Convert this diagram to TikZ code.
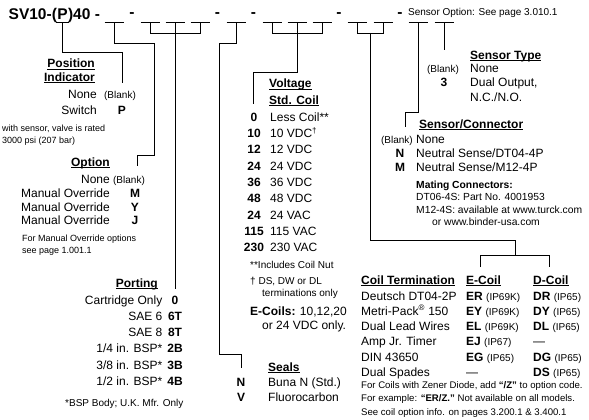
\documentclass[tikz,border=0pt]{standalone}
\usepackage{fontspec}
\setmainfont{Liberation Sans}
\usepackage{tikz}

\newcommand{\undl}[1]{\setbox0=\hbox{#1}\rlap{\rule[-1.6pt]{\wd0}{0.9pt}}\box0}

\begin{document}
\begin{tikzpicture}[x=1pt, y=-1pt,
	every node/.style={inner sep=0pt, font=\fontsize{12}{14}\selectfont},
	conn/.style={draw=black, line width=0.9pt},
	title/.style={font=\fontsize{15.5}{17}\selectfont\bfseries},
	lbl/.style={anchor=base west},
	rlbl/.style={anchor=base east},
	hd/.style={anchor=base west, font=\fontsize{12}{14}\selectfont\bfseries},
	rhd/.style={anchor=base east, font=\fontsize{12}{14}\selectfont\bfseries},
	code/.style={anchor=base, font=\fontsize{12}{14}\selectfont\bfseries},
	blanktxt/.style={anchor=base, font=\fontsize{10}{12}\selectfont},
	smalltxt/.style={anchor=base west, font=\fontsize{10}{12}\selectfont},
	notetxt/.style={anchor=base west, font=\fontsize{9}{11}\selectfont}]
				\useasboundingbox (0,0) rectangle (589,420);
				
				% model code
				\node[title, anchor=base] (p) at (62.5,20) {P};
				\node[title, anchor=base east] (t1) at (p.base west) {SV10-(};
				\node[title, anchor=base west] (t2) at (p.base east) {)40 -};
				\node[title, anchor=base] (h1) at (132,17.7) {-};
				\node[title, anchor=base] (h2) at (217.5,17.7) {-};
				\node[title, anchor=base] (h3) at (253.5,17.7) {-};
				\node[title, anchor=base] (h4) at (339,17.7) {-};
				\node[title, anchor=base] (h5) at (400,17.7) {-};
				\node[smalltxt] (sopt) at (408,15.6) {Sensor Option: See page 3.010.1};
				
				% blanks
				\coordinate (b0) at (62.5,22.5);
				\coordinate (b1) at (114,22.5);
				\coordinate (b2) at (150,22.5);
				\coordinate (b3) at (175,22.5);
				\coordinate (b4) at (200,22.5);
				\coordinate (b5) at (236,22.5);
				\coordinate (b6) at (272,22.5);
				\coordinate (b7) at (297,22.5);
				\coordinate (b8) at (322,22.5);
				\coordinate (b9) at (357,22.5);
				\coordinate (b10) at (383,22.5);
				\coordinate (b11) at (418,22.5);
				\coordinate (b12) at (444,22.5);
				\draw[conn] ([xshift=-6.5pt]b0) -- ([xshift=6.5pt]b0);
				\draw[conn] ([xshift=-9.5pt]b1) -- ([xshift=9.5pt]b1);
				\draw[conn] ([xshift=-9.5pt]b2) -- ([xshift=9.5pt]b2);
				\draw[conn] ([xshift=-9.5pt]b3) -- ([xshift=9.5pt]b3);
				\draw[conn] ([xshift=-9.5pt]b4) -- ([xshift=9.5pt]b4);
				\draw[conn] ([xshift=-9.5pt]b5) -- ([xshift=9.5pt]b5);
				\draw[conn] ([xshift=-9.5pt]b6) -- ([xshift=9.5pt]b6);
				\draw[conn] ([xshift=-9.5pt]b7) -- ([xshift=9.5pt]b7);
				\draw[conn] ([xshift=-9.5pt]b8) -- ([xshift=9.5pt]b8);
				\draw[conn] ([xshift=-9.5pt]b9) -- ([xshift=9.5pt]b9);
				\draw[conn] ([xshift=-9.5pt]b10) -- ([xshift=9.5pt]b10);
				\draw[conn] ([xshift=-9.5pt]b11) -- ([xshift=9.5pt]b11);
				\draw[conn] ([xshift=-9.5pt]b12) -- ([xshift=9.5pt]b12);
				
				% position indicator
				\node[rhd] (pos1) at (95,68) {\undl{Position}};
				\node[rhd] (pos2) at (95,81.5) {\undl{Indicator}};
				\node[rlbl] (pnone) at (97,99) {None};
				\node[blanktxt] (pbl) at (120,99) {(Blank)};
				\node[rlbl] (psw) at (97,114) {Switch};
				\node[code] (pP) at (122,114) {P};
				\node[notetxt] (pn1) at (2,131) {with sensor, valve is rated};
				\node[notetxt] (pn2) at (2,143) {3000 psi (207 bar)};
				
				% option
				\node[rhd] (opt) at (110,166.5) {\undl{Option}};
				\node[rlbl] (onone) at (110,183) {None};
				\node[blanktxt] (obl) at (129,183) {(Blank)};
				\node[rlbl] (om1) at (110,197) {Manual Override};
				\node[code] (oM) at (135,197) {M};
				\node[rlbl] (om2) at (110,211) {Manual Override};
				\node[code] (oY) at (135,211) {Y};
				\node[rlbl] (om3) at (110,224) {Manual Override};
				\node[code] (oJ) at (135,224) {J};
				\node[notetxt] (on1) at (22,241) {For Manual Override options};
				\node[notetxt] (on2) at (22,253) {see page 1.001.1};
				
				% porting
				\node[rhd] (port) at (158,287) {\undl{Porting}};
				\node[rlbl] (pt1) at (162.5,304) {Cartridge Only};
				\node[code] (pc1) at (175,304) {0};
				\node[rlbl] (pt2) at (162.5,320) {SAE 6};
				\node[code] (pc2) at (175,320) {6T};
				\node[rlbl] (pt3) at (162.5,336) {SAE 8};
				\node[code] (pc3) at (175,336) {8T};
				\node[rlbl] (pt4) at (162.5,352) {1/4 in. BSP*};
				\node[code] (pc4) at (175,352) {2B};
				\node[rlbl] (pt5) at (162.5,369) {3/8 in. BSP*};
				\node[code] (pc5) at (175,369) {3B};
				\node[rlbl] (pt6) at (162.5,385) {1/2 in. BSP*};
				\node[code] (pc6) at (175,385) {4B};
				\node[smalltxt] (ptn) at (65,406.5) {*BSP Body; U.K. Mfr. Only};
				
				% seals
				\node[hd] (seal) at (268,371) {\undl{Seals}};
				\node[code] (sN) at (241,386) {N};
				\node[lbl] (sn1) at (268,386) {Buna N (Std.)};
				\node[code] (sV) at (241,401) {V};
				\node[lbl] (sn2) at (268,401) {Fluorocarbon};
				
				% voltage
				\node[hd] (volt) at (269,88) {\undl{Voltage}};
				\node[hd] (std) at (269,104) {\undl{Std. Coil}};
				\node[code] (vc1) at (254,121.3) {0};
				\node[lbl] (vt1) at (270,121.3) {Less Coil**};
				\node[code] (vc2) at (254,137.6) {10};
				\node[lbl] (vt2) at (270,137.6) {10 VDC\textsuperscript{†}};
				\node[code] (vc3) at (254,153.9) {12};
				\node[lbl] (vt3) at (270,153.9) {12 VDC};
				\node[code] (vc4) at (254,170.2) {24};
				\node[lbl] (vt4) at (270,170.2) {24 VDC};
				\node[code] (vc5) at (254,186.5) {36};
				\node[lbl] (vt5) at (270,186.5) {36 VDC};
				\node[code] (vc6) at (254,202.8) {48};
				\node[lbl] (vt6) at (270,202.8) {48 VDC};
				\node[code] (vc7) at (254,219.1) {24};
				\node[lbl] (vt7) at (270,219.1) {24 VAC};
				\node[code] (vc8) at (254,235.4) {115};
				\node[lbl] (vt8) at (270,235.4) {115 VAC};
				\node[code] (vc9) at (254,251.7) {230};
				\node[lbl] (vt9) at (270,251.7) {230 VAC};
				\node[smalltxt] (vn1) at (250,268.6) {**Includes Coil Nut};
				\node[smalltxt] (vn2) at (250,284.6) {† DS, DW or DL};
				\node[smalltxt] (vn3) at (262,296.6) {terminations only};
				\node[lbl] (vn4) at (250,315) {\textbf{E-Coils:} 10,12,20};
				\node[lbl] (vn5) at (262,329) {or 24 VDC only.};
				
				% sensor type
				\node[hd] (stype) at (470,59.5) {\undl{Sensor Type}};
				\node[blanktxt] (stbl) at (443,73) {(Blank)};
				\node[lbl] (st1) at (470,73) {None};
				\node[code] (st3) at (444,87) {3};
				\node[lbl] (st2) at (470,87) {Dual Output,};
				\node[lbl] (st4) at (470,101) {N.C./N.O.};
				
				% sensor / connector
				\node[hd] (scon) at (419,128.5) {\undl{Sensor/Connector}};
				\node[blanktxt, anchor=base east] (scbl) at (413,143) {(Blank)};
				\node[lbl] (sc1) at (416,143) {None};
				\node[code] (scN) at (400,157) {N};
				\node[lbl] (sc2) at (416,157) {Neutral Sense/DT04-4P};
				\node[code] (scM) at (400,171) {M};
				\node[lbl] (sc3) at (416,171) {Neutral Sense/M12-4P};
				\node[smalltxt, font=\fontsize{10.3}{12}\selectfont\bfseries] (mat) at (416,188.6) {Mating Connectors:};
				\node[smalltxt, font=\fontsize{10.3}{12}\selectfont] (mat1) at (416,200.6) {DT06-4S: Part No. 4001953};
				\node[smalltxt, font=\fontsize{10.3}{12}\selectfont] (mat2) at (416,213.6) {M12-4S: available at www.turck.com};
				\node[smalltxt, font=\fontsize{10.3}{12}\selectfont] (mat3) at (432,225.6) {or www.binder-usa.com};
				
				% coil termination
				\node[hd] (cterm) at (361,284.3) {\undl{Coil Termination}};
				\node[hd] (ecoil) at (466,284.3) {\undl{E-Coil}};
				\node[hd] (dcoil) at (533,284.3) {\undl{D-Coil}};
				\node[lbl] (ct1) at (361,300.3) {Deutsch DT04-2P};
				\node[lbl] (ce1) at (466,300.3) {\textbf{ER} {\fontsize{10}{12}\selectfont(IP69K)}};
				\node[lbl] (cd1) at (533,300.3) {\textbf{DR} {\fontsize{10}{12}\selectfont(IP65)}};
				\node[lbl] (ct2) at (361,315.3) {Metri-Pack\textsuperscript{®} 150};
				\node[lbl] (ce2) at (466,315.3) {\textbf{EY} {\fontsize{10}{12}\selectfont(IP69K)}};
				\node[lbl] (cd2) at (533,315.3) {\textbf{DY} {\fontsize{10}{12}\selectfont(IP65)}};
				\node[lbl] (ct3) at (361,330.3) {Dual Lead Wires};
				\node[lbl] (ce3) at (466,330.3) {\textbf{EL} {\fontsize{10}{12}\selectfont(IP69K)}};
				\node[lbl] (cd3) at (533,330.3) {\textbf{DL} {\fontsize{10}{12}\selectfont(IP65)}};
				\node[lbl] (ct4) at (361,345.3) {Amp Jr. Timer};
				\node[lbl] (ce4) at (466,345.3) {\textbf{EJ} {\fontsize{10}{12}\selectfont(IP67)}};
				\node[lbl] (cd4) at (533,345.3) {—};
				\node[lbl] (ct5) at (361,361.3) {DIN 43650};
				\node[lbl] (ce5) at (466,361.3) {\textbf{EG} {\fontsize{10}{12}\selectfont(IP65)}};
				\node[lbl] (cd5) at (533,361.3) {\textbf{DG} {\fontsize{10}{12}\selectfont(IP65)}};
				\node[lbl] (ct6) at (361,376.3) {Dual Spades};
				\node[lbl] (ce6) at (466,376.3) {—};
				\node[lbl] (cd6) at (533,376.3) {\textbf{DS} {\fontsize{10}{12}\selectfont(IP65)}};
				\node[notetxt, font=\fontsize{9.6}{11}\selectfont] (cn1) at (361,388) {For Coils with Zener Diode, add \textbf{“/Z”} to option code.};
				\node[notetxt, font=\fontsize{9.6}{11}\selectfont] (cn2) at (361,401) {For example: \textbf{“ER/Z.”} Not available on all models.};
				\node[notetxt, font=\fontsize{9.6}{11}\selectfont] (cn3) at (361,415) {See coil option info. on pages 3.200.1 \& 3.400.1};
				
				% connector ends
				\coordinate (pe) at (122,83);
				\coordinate (oj) at (154,155);
				\coordinate (oe) at (137,166);
				\coordinate (pte) at (175,289);
				\coordinate (sj) at (219,354);
				\coordinate (se) at (241,368);
				\coordinate (ve) at (253,104);
				\coordinate (c9) at (370,33);
				\coordinate (cj) at (515,255);
				\coordinate (ee) at (480,267);
				\coordinate (de) at (549,267);
				\coordinate (sce) at (405,127);
				\coordinate (ste) at (444,50);
				
				% connectors
				\draw[conn] (b0) -- ++(0,29.5) -| (pe);
				\draw[conn] (b1) -- ++(0,20.5) -| (oj) -| (oe);
				\draw[conn] (b2) -- ++(0,10.5) -| (b4);
				\draw[conn] (b3) -- (pte);
				\draw[conn] (b5) -- ++(0,20.5) -| (sj) -| (se);
				\draw[conn] (b6) -- ++(0,10.5) -| (b8);
				\draw[conn] (b7) -- ++(0,49.5) -| (ve);
				\draw[conn] (b9) -- ++(0,10.5) -| (b10);
				\draw[conn] (c9) -- ++(0,207) -| (cj);
				\draw[conn] (ee) -- ++(0,-12) -| (de);
				\draw[conn] (b11) -- ++(0,89.5) -| (sce);
				\draw[conn] (b12) -- (ste);
				\end{tikzpicture}
\end{document}
